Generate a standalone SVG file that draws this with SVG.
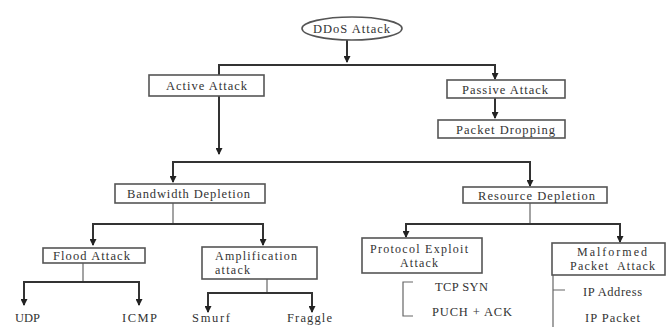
<svg xmlns="http://www.w3.org/2000/svg" width="666" height="327" viewBox="0 0 666 327">
<defs>
<marker id="ah" markerWidth="7" markerHeight="7" refX="6" refY="3.5" orient="auto-start-reverse" markerUnits="userSpaceOnUse" viewBox="0 0 7 7">
<path d="M0,0 L7,3.5 L0,7 Z" fill="#222"/>
</marker>
<style>
.box{fill:#fff;stroke:#555;stroke-width:1.6}
.t{font-family:"Liberation Serif","Times New Roman",serif;font-size:12.5px;fill:#333}
.t2{font-family:"Liberation Serif","Times New Roman",serif;font-size:12px;fill:#333}
.ln{fill:none;stroke:#333;stroke-width:2}
.thin{fill:none;stroke:#666;stroke-width:1.2}
</style>
</defs>
<rect width="666" height="327" fill="#fff"/>
<g id="connectors">
<path class="ln" d="M347,40 V62" marker-end="url(#ah)"/>
<path class="ln" d="M219,75 V65 H495 V79" marker-end="url(#ah)"/>
<path class="ln" d="M495,98 V118" marker-end="url(#ah)"/>
<path class="ln" d="M219,96 V154" marker-end="url(#ah)"/>
<path class="ln" d="M173,182 V162 H530 V186" marker-end="url(#ah)" marker-start="url(#ah)"/>
<path class="thin" d="M173,203 V224"/>
<path class="ln" d="M93,245 V224 H263 V245" marker-end="url(#ah)" marker-start="url(#ah)"/>
<path class="thin" d="M530,203 V224"/>
<path class="ln" d="M406,237 V224 H620 V242" marker-end="url(#ah)" marker-start="url(#ah)"/>
<path class="thin" d="M83,263 V282"/>
<path class="ln" d="M24,305 V282 H139 V305" marker-end="url(#ah)" marker-start="url(#ah)"/>
<path class="thin" d="M267,279 V293"/>
<path class="ln" d="M208,312 V293 H312 V312" marker-end="url(#ah)" marker-start="url(#ah)"/>
<path class="thin" d="M413,282 H403 V316 H413"/>
<path class="thin" d="M553,275 V327 M553,290 H565"/>
</g>
<g id="ddos">
<ellipse cx="352" cy="28.5" rx="50" ry="11.5" fill="#fff" stroke="#555" stroke-width="1.6"/>
<text class="t" x="313" y="33" textLength="77">DDoS Attack</text>
</g>
<g id="active">
<rect class="box" x="149" y="75" width="115" height="21"/>
<text class="t" x="166" y="90" textLength="81">Active Attack</text>
</g>
<g id="passive">
<rect class="box" x="447" y="80" width="118" height="18"/>
<text class="t" x="462" y="93.5" textLength="86">Passive Attack</text>
</g>
<g id="packet-dropping">
<rect class="box" x="438" y="120" width="127" height="18"/>
<text class="t" x="456" y="133.5" textLength="99">Packet Dropping</text>
</g>
<g id="bandwidth">
<rect class="box" x="115" y="184" width="150" height="19"/>
<text class="t" x="127" y="198" textLength="123">Bandwidth Depletion</text>
</g>
<g id="resource">
<rect class="box" x="463" y="187" width="144" height="16"/>
<text class="t" x="478" y="199.5" textLength="117">Resource Depletion</text>
</g>
<g id="flood">
<rect class="box" x="43" y="248" width="102" height="15"/>
<text class="t" x="53" y="259.5" textLength="77">Flood Attack</text>
</g>
<g id="amplification">
<rect class="box" x="202" y="247" width="115" height="32"/>
<text class="t2" x="215" y="260" textLength="82">Amplification</text>
<text class="t2" x="215" y="274" textLength="35">attack</text>
</g>
<g id="protocol">
<rect class="box" x="362" y="238" width="120" height="35"/>
<text class="t2" x="370" y="253" textLength="98">Protocol Exploit</text>
<text class="t2" x="400" y="267" textLength="38">Attack</text>
</g>
<g id="malformed">
<rect class="box" x="552" y="243" width="113" height="32"/>
<text class="t2" x="577" y="256" textLength="70">Malformed</text>
<text class="t2" x="570" y="270" textLength="85" xml:space="preserve">Packet  Attack</text>
</g>
<g id="leaves">
<text class="t" x="15" y="322" textLength="25">UDP</text>
<text class="t" x="122" y="322" textLength="35">ICMP</text>
<text class="t" x="192" y="322" textLength="38">Smurf</text>
<text class="t" x="287" y="322" textLength="45">Fraggle</text>
<text class="t" x="435" y="291" textLength="53">TCP SYN</text>
<text class="t" x="432" y="316" textLength="80">PUCH + ACK</text>
<text class="t" x="583" y="296" textLength="59">IP Address</text>
<text class="t" x="585" y="322" textLength="55">IP Packet</text>
</g>
</svg>
